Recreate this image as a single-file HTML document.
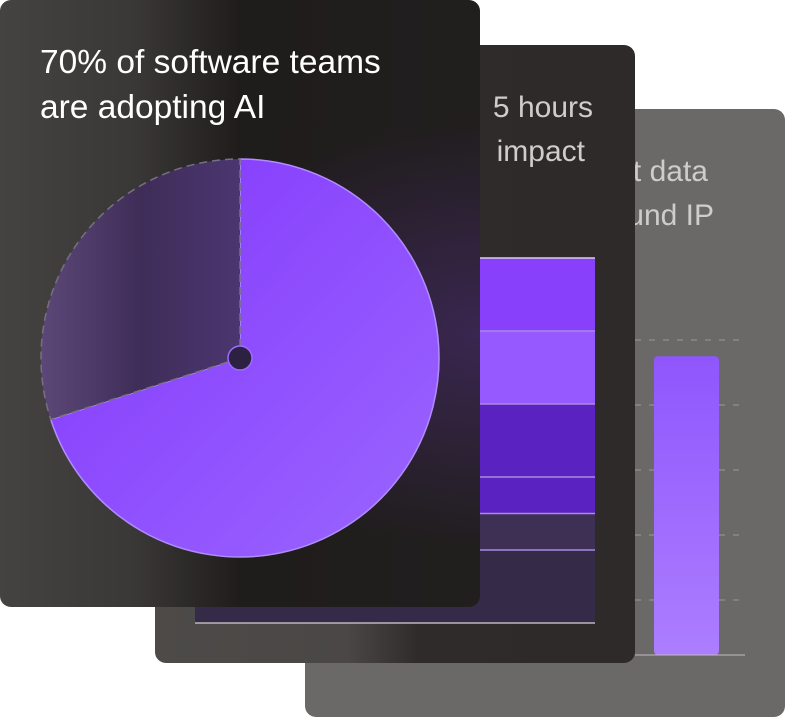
<!DOCTYPE html>
<html><head><meta charset="utf-8"><style>
body{margin:0;width:785px;height:717px;background:#fff;position:relative;overflow:hidden;font-family:"Liberation Sans",sans-serif}
.card{position:absolute;border-radius:11px;overflow:hidden}
.t{position:absolute;font-size:30px;line-height:45px;white-space:nowrap}
.r{text-align:right}
</style></head><body>
<div class="card" style="left:305px;top:109px;width:480px;height:608px;background:#6a6968">
  <div class="t r" style="right:77px;top:40px;color:#cfcdcc">Concerns grow about data</div>
  <div class="t r" style="right:71px;top:84px;color:#cfcdcc">security issues around IP</div>
  <svg id="bar3" width="480" height="608" style="position:absolute;left:0;top:0"></svg>
</div>
<div class="card" style="left:155px;top:45px;width:480px;height:618px;background:linear-gradient(90deg,#4d4a48 0%,#4a4746 40%,#2e2b2a 55%,#2d2a29 100%)">
  <div class="t r" style="right:42px;top:40px;color:#cfcdcc">Developers save&nbsp;&nbsp; 5 hours</div>
  <div class="t r" style="right:50px;top:84px;color:#cfcdcc">per week with AI&nbsp;&nbsp; impact</div>
  <svg id="bar2" width="480" height="618" style="position:absolute;left:0;top:0"></svg>
</div>
<div class="card" style="left:0;top:0;width:480px;height:607px;background:radial-gradient(ellipse at 100% 55%,#3a2650 0%,rgba(40,30,50,0) 45%),linear-gradient(90deg,#454341 0%,#3a3837 28%,#1f1c1c 50%,#211e1e 100%)">
  <div class="t" style="left:40px;top:40px;color:#fff;font-size:33.5px">70% of software teams<br>are adopting AI</div>
  <svg id="pie" width="480" height="607" style="position:absolute;left:0;top:0"></svg>
</div>
<script>
const pieValues=[70,30];
const stackValues=[20,20,20,10,10,20];
const stackColors=['#8840fb','#9659ff','#5a22c0','#5a22c0','#3e2f55','#352a48'];
const bar3Values=[95];
const bar3Ticks=[20,40,60,80,100];
const NS='http://www.w3.org/2000/svg';
function mk(p,tag,a){const e=document.createElementNS(NS,tag);for(const k in a)e.setAttribute(k,a[k]);p.appendChild(e);return e;}
(function(){
 const s=document.getElementById('pie');const cx=240,cy=358,r=199;
 const d=mk(s,'defs',{});
 const g1=mk(d,'linearGradient',{id:'pg',x1:0,y1:0,x2:1,y2:1});
 mk(g1,'stop',{offset:0,'stop-color':'#8236fc'});mk(g1,'stop',{offset:1,'stop-color':'#9b66ff'});
 const g2=mk(d,'linearGradient',{id:'pg2',x1:0,y1:0,x2:1,y2:0});
 mk(g2,'stop',{offset:0,'stop-color':'#5c4878'});mk(g2,'stop',{offset:0.5,'stop-color':'#3f2d58'});mk(g2,'stop',{offset:1,'stop-color':'#4b3670'});
 const tot=pieValues.reduce((a,b)=>a+b,0);let a0=0;
 const fills=['url(#pg)','url(#pg2)'];
 pieValues.forEach((v,i)=>{
  const a1=a0+v/tot*2*Math.PI;
  const p=t=>[cx+r*Math.sin(t),cy-r*Math.cos(t)];
  const [x0,y0]=p(a0),[x1,y1]=p(a1);
  const el=mk(s,'path',{d:`M${cx},${cy}L${x0},${y0}A${r},${r} 0 ${a1-a0>Math.PI?1:0} 1 ${x1},${y1}Z`,fill:fills[i],stroke:i==0?'#b28cff':'#77707f','stroke-width':1.5,'stroke-dasharray':i==0?'none':'8 5'});
  
  
  a0=a1;
 });
 const h=mk(s,'circle',{cx,cy,r:12,fill:'#2d2141',stroke:'#9c6cff','stroke-width':1.5});
 
 
})();
(function(){
 const s=document.getElementById('bar2');const x0=40,x1=440,base=578,h=365;
 const tot=stackValues.reduce((a,b)=>a+b,0);let y=base-h;
 stackValues.forEach((v,i)=>{
  const hh=v/tot*h;
  const r=mk(s,'rect',{x:x0,y:y,width:x1-x0,height:hh,fill:stackColors[i]});
  
  
  const l=mk(s,'line',{x1:x0,x2:x1,y1:y,y2:y,stroke:i==0?'#d8d0e8':'#a98ae0','stroke-width':1.5});
  
  
  y+=hh;
 });
 const b=mk(s,'line',{x1:x0,x2:x1,y1:base,y2:base,stroke:'#bdb8b8','stroke-width':1.5});
 
 
})();
(function(){
 const s=document.getElementById('bar3');const base=546;
 const yS=v=>556-3.25*v;
 bar3Ticks.forEach(t=>{
  const l=mk(s,'line',{x1:330,x2:440,y1:yS(t),y2:yS(t),stroke:'#9a9898','stroke-width':1,'stroke-dasharray':'6 8'});
  
  
 });
 const d=mk(s,'defs',{});const g=mk(d,'linearGradient',{id:'bg3',x1:0,y1:0,x2:0,y2:1});
 mk(g,'stop',{offset:0,'stop-color':'#8f56fd'});mk(g,'stop',{offset:1,'stop-color':'#ac7eff'});
 bar3Values.forEach((v,i)=>{
  const y=yS(v);
  const r=mk(s,'rect',{x:349,y:y,width:65,height:base-y,rx:4,fill:'url(#bg3)'});
  
  
 });
 const b=mk(s,'line',{x1:330,x2:440,y1:base,y2:base,stroke:'#bdbbbb','stroke-width':1});
 
 
})();
</script>
</body></html>
